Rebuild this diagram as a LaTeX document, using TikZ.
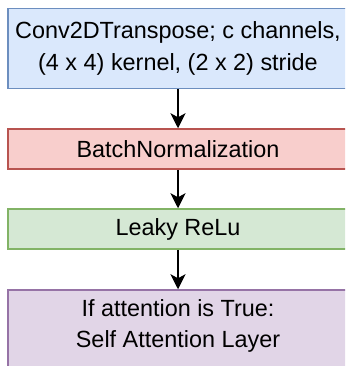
\documentclass[tikz,border=0pt]{standalone}
\usepackage{fontspec}
\setmainfont{Liberation Sans}
\usetikzlibrary{arrows.meta}

\definecolor{bluefill}{HTML}{DAE8FC}\definecolor{bluedraw}{HTML}{6C8EBF}
\definecolor{redfill}{HTML}{F8CECC}\definecolor{reddraw}{HTML}{B85450}
\definecolor{greenfill}{HTML}{D5E8D4}\definecolor{greendraw}{HTML}{82B366}
\definecolor{purplefill}{HTML}{E1D5E7}\definecolor{purpledraw}{HTML}{9673A6}

\tikzset{
  x=1pt, y=1pt,
  layerbox/.style={rectangle, line width=1.5pt, minimum width=340pt,
    inner sep=0pt, align=center,
    font=\fontsize{23.4pt}{31.5pt}\selectfont},
  flow/.style={line width=1.5pt, -{Stealth[length=15pt, width=15pt, inset=4pt]}}
}

\begin{document}
\begin{tikzpicture}
\useasboundingbox (0,0) rectangle (345,-366);
\begin{scope}
\clip (0,0) rectangle (345,-366);
\node[layerbox, fill=bluefill, draw=bluedraw, minimum height=80pt] (conv) at (178,-48.5)
  {Conv2DTranspose; c channels,\\(4 x 4) kernel, (2 x 2) stride};
\node[layerbox, fill=redfill, draw=reddraw, minimum height=40pt] (bn) at (178,-149)
  {BatchNormalization};
\node[layerbox, fill=greenfill, draw=greendraw, minimum height=40pt] (relu) at (178,-229)
  {Leaky ReLu};
\node[layerbox, fill=purplefill, draw=purpledraw, minimum height=80pt] (attn) at (178,-330) {};
\node[layerbox, minimum height=0pt] (attntext) at ([yshift=4pt]attn.center)
  {If attention is True:\\Self Attention Layer};
\end{scope}
\draw[flow] (conv.south) -- (bn.north);
\draw[flow] (bn.south) -- (relu.north);
\draw[flow] (relu.south) -- (attn.north);
\end{tikzpicture}
\end{document}
